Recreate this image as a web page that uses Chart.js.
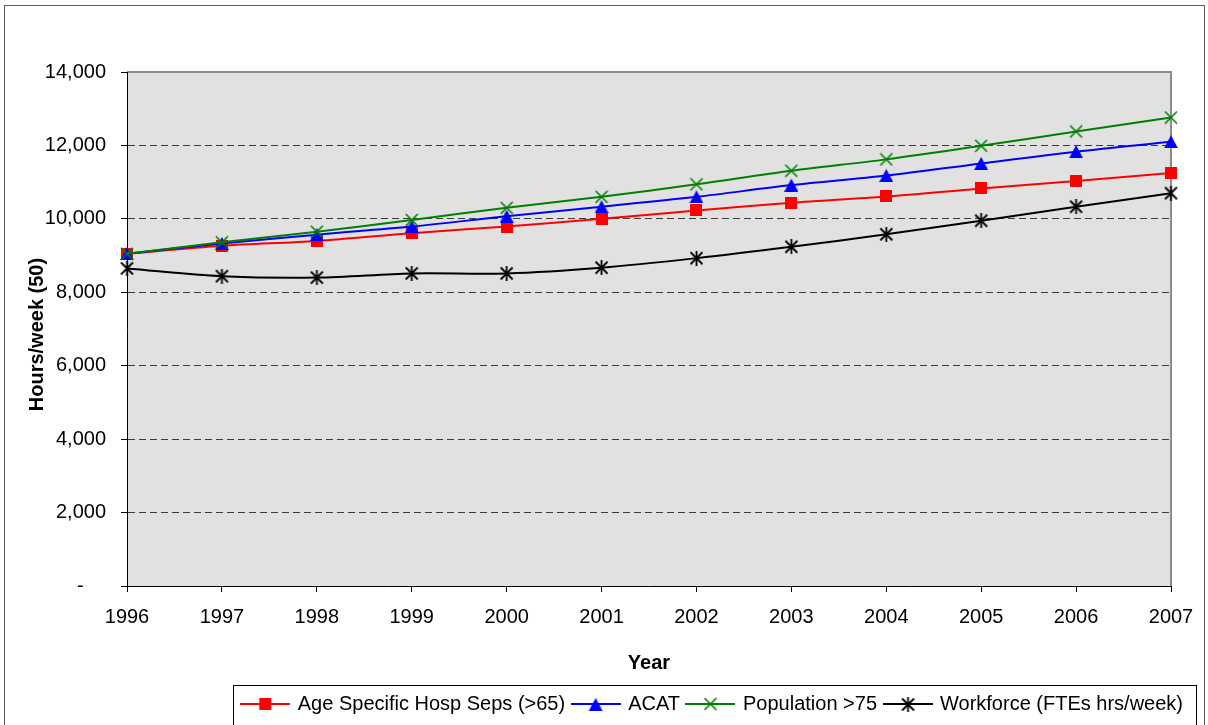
<!DOCTYPE html>
<html><head><meta charset="utf-8">
<script src="https://cdn.jsdelivr.net/npm/chart.js@4.4.1/dist/chart.umd.min.js"></script>
<style>html,body{margin:0;padding:0;background:#fff;overflow:hidden;}</style>
</head><body>
<canvas id="c" width="1208" height="725"></canvas>
<script>
// ---- data ----
const years = ['1996','1997','1998','1999','2000','2001','2002','2003','2004','2005','2006','2007'];
const hospSeps = [9050, 9270, 9400, 9610, 9790, 10000, 10230, 10440, 10610, 10830, 11030, 11250];
const acat = [9050, 9330, 9570, 9790, 10070, 10330, 10600, 10920, 11180, 11510, 11830, 12100];
const population75 = [9050, 9360, 9650, 9970, 10300, 10600, 10940, 11310, 11620, 11990, 12380, 12760];
const workforce = [8650, 8440, 8400, 8515, 8515, 8670, 8930, 9240, 9580, 9950, 10330, 10700];
const seriesLabels = ['Age Specific Hosp Seps (>65)', 'ACAT', 'Population >75', 'Workforce (FTEs hrs/week)'];
const seriesColors = ['#FF0000', '#0000FF', '#008000', '#000000'];
const yMin = 0, yMax = 14000, yStep = 2000;

const FONT = "'Liberation Sans', Arial, sans-serif";
Chart.defaults.font.family = FONT;
Chart.defaults.color = '#000';

function mk(w, h, draw) {
  const c = document.createElement('canvas');
  c.width = w; c.height = h;
  draw(c.getContext('2d'), w, h);
  return c;
}
const markers = [
  mk(12, 12, x => { x.fillStyle = seriesColors[0]; x.fillRect(0, 0, 12, 12); }),
  mk(14, 13, x => { x.fillStyle = seriesColors[1]; x.beginPath(); x.moveTo(7, 0); x.lineTo(14, 13); x.lineTo(0, 13); x.closePath(); x.fill(); }),
  mk(14, 14, x => { x.strokeStyle = seriesColors[2]; x.lineWidth = 1.6; x.beginPath(); x.moveTo(1, 1); x.lineTo(13, 13); x.moveTo(13, 1); x.lineTo(1, 13); x.stroke(); }),
  mk(15, 15, x => { x.strokeStyle = seriesColors[3]; x.lineWidth = 1.8; x.beginPath(); x.moveTo(1.5, 1.5); x.lineTo(13.5, 13.5); x.moveTo(13.5, 1.5); x.lineTo(1.5, 13.5); x.moveTo(7.5, 0); x.lineTo(7.5, 15); x.stroke(); })
];
function legendIcon(i) {
  return mk(50, 20, x => {
    x.strokeStyle = seriesColors[i]; x.lineWidth = 2;
    x.beginPath(); x.moveTo(0, 10); x.lineTo(50, 10); x.stroke();
    const m = markers[i];
    x.drawImage(m, Math.round(25 - m.width / 2), Math.round(10 - m.height / 2));
  });
}

const seriesData = [hospSeps, acat, population75, workforce];
const datasets = seriesData.map((d, i) => ({
  label: seriesLabels[i],
  data: d,
  borderColor: seriesColors[i],
  backgroundColor: seriesColors[i],
  borderWidth: 2,
  pointStyle: markers[i],
  pointRadius: 6,
  pointHoverRadius: 6,
  tension: 0.33,
  fill: false,
  clip: false,
  order: 4 - i
}));

const framePlugin = {
  id: 'frame',
  beforeDraw(chart) {
    const {ctx, chartArea: a} = chart;
    ctx.save();
    ctx.fillStyle = '#fff';
    ctx.fillRect(0, 0, chart.width, chart.height);
    ctx.fillStyle = '#E1E1E1';
    ctx.fillRect(a.left, a.top, a.right - a.left, a.bottom - a.top);
    ctx.strokeStyle = '#8c8c8c';
    ctx.lineWidth = 2;
    ctx.beginPath();
    ctx.moveTo(a.left, a.top); ctx.lineTo(a.right, a.top); ctx.lineTo(a.right, a.bottom);
    ctx.stroke();
    ctx.strokeStyle = '#606060';
    ctx.lineWidth = 1;
    ctx.strokeRect(4.5, 5.5, 1200, 760);
    ctx.restore();
  },
  afterDraw(chart) {
    const lg = chart.legend;
    if (!lg || !lg.legendHitBoxes || !lg.legendHitBoxes.length) return;
    const hb = lg.legendHitBoxes;
    const last = hb[hb.length - 1];
    const l = Math.round(hb[0].left - 10), r = Math.round(last.left + last.width + 13);
    const ctx = chart.ctx;
    ctx.save();
    ctx.strokeStyle = '#000';
    ctx.lineWidth = 1;
    ctx.strokeRect(l + 0.5, Math.round(lg.top) - 0.5, r - l, 80);
    ctx.restore();
  }
};

new Chart(document.getElementById('c'), {
  type: 'line',
  data: { labels: years, datasets },
  plugins: [framePlugin],
  options: {
    responsive: false,
    animation: false,
    events: [],
    layout: { padding: { left: 5, right: 17, top: 72, bottom: 1 } },
    plugins: {
      tooltip: { enabled: false },
      legend: {
        position: 'bottom',
        align: 'end',
        labels: {
          usePointStyle: true,
          pointStyleWidth: 45,
          padding: 8,
          color: '#000',
          font: { size: 20, family: FONT },
          generateLabels: chart => chart.data.datasets.map((ds, i) => ({
            text: ds.label,
            pointStyle: legendIcon(i),
            fillStyle: ds.borderColor,
            strokeStyle: ds.borderColor,
            lineWidth: 0,
            hidden: false,
            datasetIndex: i
          }))
        }
      }
    },
    scales: {
      x: {
        type: 'category',
        offset: false,
        ticks: { padding: 13, color: '#000', font: { size: 20 }, maxRotation: 0, autoSkip: false },
        grid: { drawOnChartArea: false, drawTicks: true, tickLength: 6, tickColor: '#000', tickWidth: 1, color: '#000' },
        border: { display: true, color: '#000', width: 1 },
        title: { display: true, text: 'Year', color: '#000', font: { size: 20, weight: 'bold' }, padding: { top: 0, bottom: 11 } },
        afterFit: s => { s.height = 100; }
      },
      y: {
        min: yMin, max: yMax,
        ticks: {
          stepSize: yStep, padding: 15, color: '#000', font: { size: 20 },
          callback: v => v === 0 ? '-    ' : Number(v).toLocaleString('en-US')
        },
        grid: {
          color: c => (c.tick && (c.tick.value === yMin || c.tick.value === yMax)) ? 'rgba(0,0,0,0)' : '#3c3c3c',
          lineWidth: 1, drawTicks: true, tickLength: 6, tickColor: '#000', tickWidth: 1
        },
        border: { display: true, color: '#000', width: 1, dash: [7, 4] },
        title: { display: true, text: 'Hours/week (50)  ', color: '#000', font: { size: 20, weight: 'bold' }, padding: { top: 20, bottom: 0 } },
        afterFit: s => { s.width = 122; }
      },
      yRight: {
        position: 'right',
        display: true,
        ticks: { display: false },
        grid: { display: false, drawTicks: false },
        border: { display: false },
        afterFit: s => { s.width = 20; }
      }
    }
  }
});
</script>
</body></html>
